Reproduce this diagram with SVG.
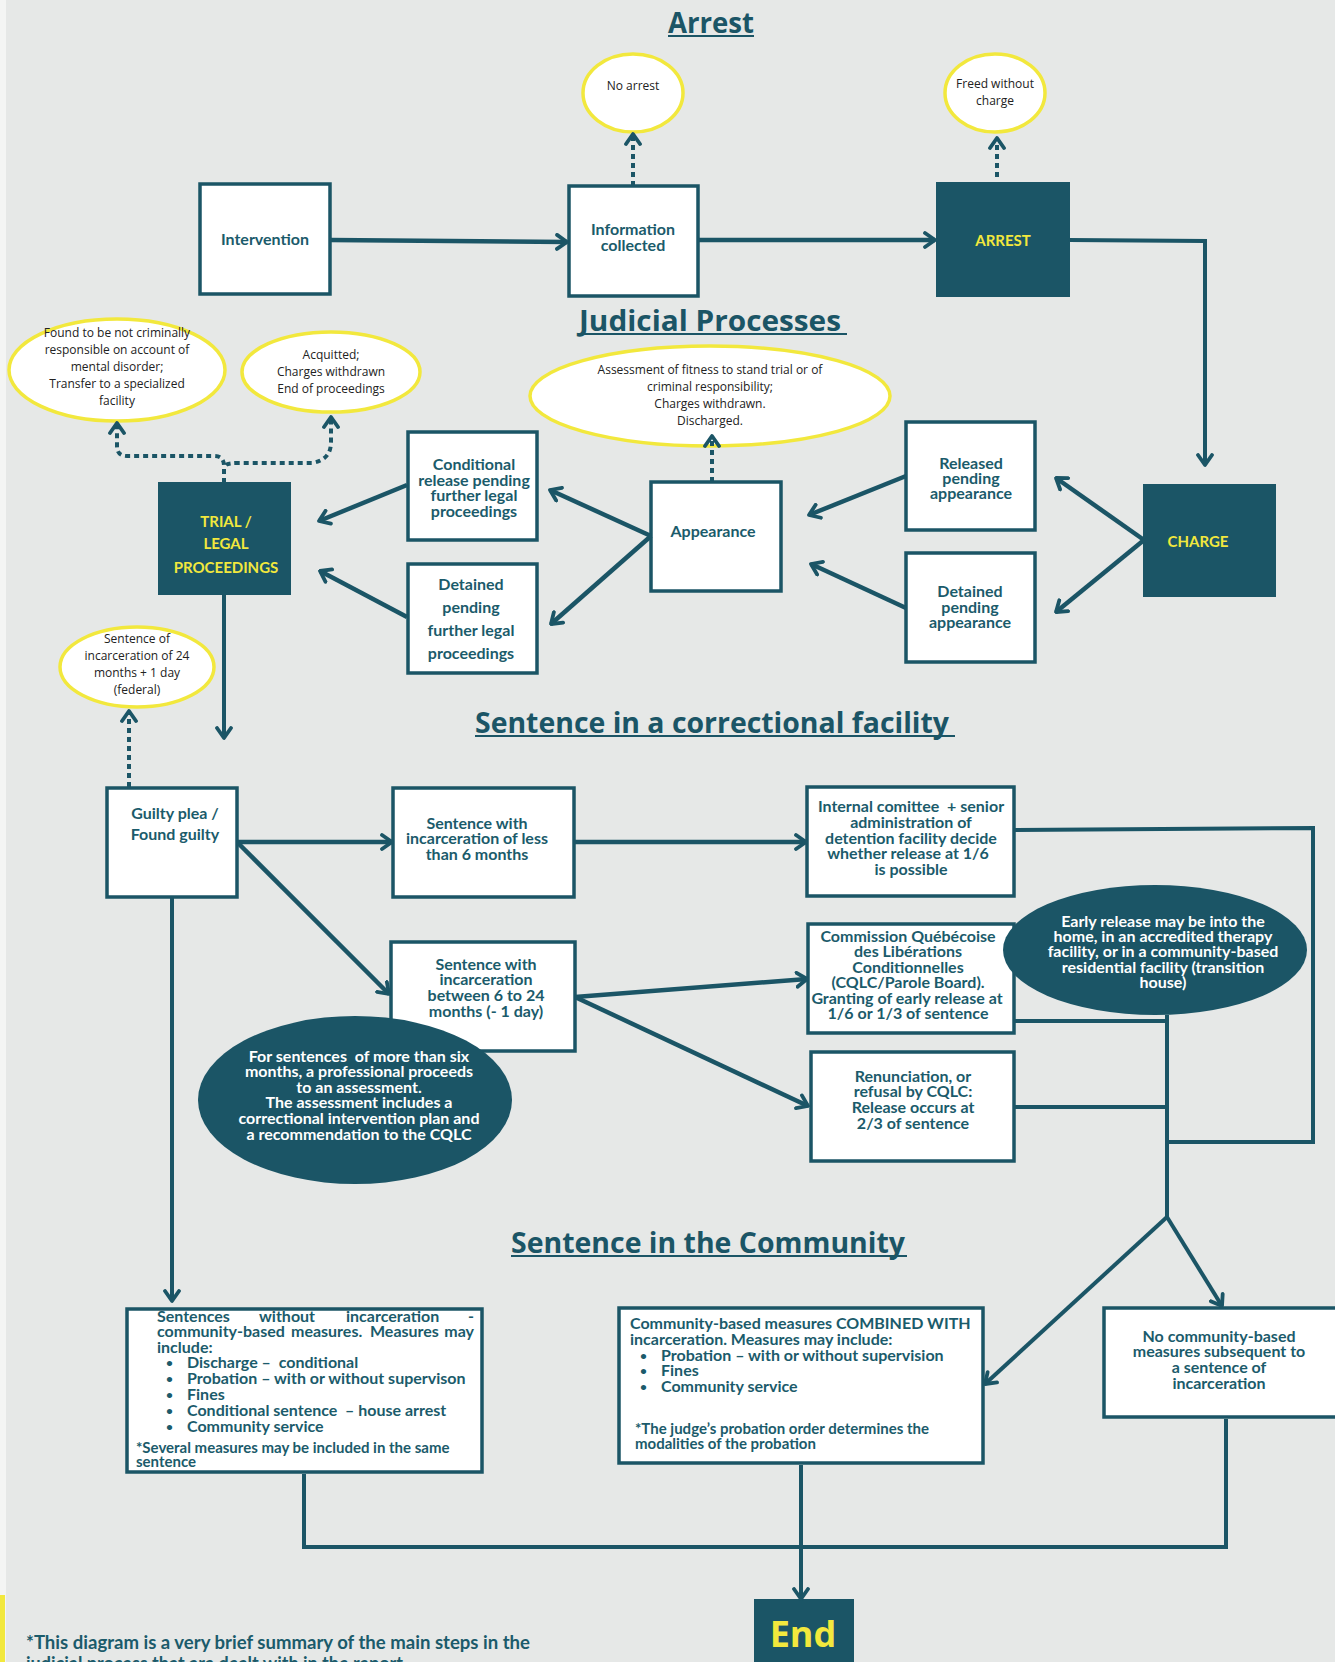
<svg xmlns="http://www.w3.org/2000/svg" width="1335" height="1662" viewBox="0 0 1335 1662">
<defs>
<style>
.bg{fill:#e6e8e7}
.box{fill:#ffffff;stroke:#1b5566;stroke-width:3.5}
.dark{fill:#1b5566;stroke:#1b5566;stroke-width:2}
.yel{fill:#ffffff;stroke:#f2e83d;stroke-width:3.5}
.dell{fill:#1b5566}
.h{font-family:"Open Sans","Liberation Sans",sans-serif;font-weight:700;fill:#1b5566}
.ul{stroke:#1b5566;stroke-width:2}
.t{font-family:Lato,"Liberation Sans",sans-serif;font-weight:700;font-size:16px;fill:#1b5b6b;text-anchor:middle}
.tl{font-family:Lato,"Liberation Sans",sans-serif;font-weight:700;font-size:16px;fill:#1b5b6b}
.tb{font-family:Lato,"Liberation Sans",sans-serif;font-weight:700;font-size:12px;fill:#1b5b6b}
.ts{font-family:Lato,"Liberation Sans",sans-serif;font-weight:700;font-size:15px;fill:#1b5b6b}
.ty{font-family:Lato,"Liberation Sans",sans-serif;font-weight:700;font-size:15px;fill:#f2e83d;text-anchor:middle}
.tw{font-family:Lato,"Liberation Sans",sans-serif;font-weight:700;font-size:16px;fill:#ffffff;text-anchor:middle}
.te{font-family:"Open Sans","Liberation Sans",sans-serif;font-weight:400;font-size:12px;fill:#222222;text-anchor:middle}
.c{fill:none;stroke:#1b5566;stroke-width:4.5}
.c4{fill:none;stroke:#1b5566;stroke-width:4}
.d{fill:none;stroke:#1b5566;stroke-width:4;stroke-dasharray:5 4}
</style>
<marker id="ah" viewBox="0 0 14 18" refX="12" refY="9" markerWidth="14" markerHeight="18" markerUnits="userSpaceOnUse" orient="auto">
<path d="M2,2 L12,9 L2,16" fill="none" stroke="#1b5566" stroke-width="3.8" stroke-linecap="round" stroke-linejoin="round"/>
</marker>
</defs>
<rect class="bg" x="0" y="0" width="1335" height="1662"/>
<rect x="0" y="0" width="6" height="1662" fill="#f4f5f4"/>
<rect x="0" y="1595" width="5" height="67" fill="#f2e83d"/>

<g id="headings">
<text class="h" x="668" y="33" font-size="28" textLength="86" lengthAdjust="spacingAndGlyphs">Arrest</text>
<line class="ul" x1="668" y1="36" x2="754" y2="36"/>
<text class="h" x="579" y="331" font-size="28" textLength="262" lengthAdjust="spacingAndGlyphs">Judicial Processes</text>
<line class="ul" x1="579" y1="334" x2="847" y2="334"/>
<text class="h" x="475" y="733" font-size="28" textLength="474" lengthAdjust="spacingAndGlyphs">Sentence in a correctional facility</text>
<line class="ul" x1="475" y1="736" x2="955" y2="736"/>
<text class="h" x="511" y="1253" font-size="28" textLength="394" lengthAdjust="spacingAndGlyphs">Sentence in the Community</text>
<line class="ul" x1="511" y1="1256" x2="907" y2="1256"/>
</g>

<g id="intervention">
<rect class="box" x="200" y="184" width="130" height="110"/>
<text class="t" x="265" y="245">Intervention</text>
</g>
<g id="information">
<rect class="box" x="569" y="186" width="129" height="110"/>
<text class="t" x="633" y="235">Information</text>
<text class="t" x="633" y="251">collected</text>
</g>
<g id="arrest">
<rect class="dark" x="937" y="183" width="132" height="113"/>
<text class="ty" x="1003" y="246">ARREST</text>
</g>
<g id="no-arrest">
<ellipse class="yel" cx="633" cy="93" rx="50" ry="39"/>
<text class="te" x="633" y="90">No arrest</text>
</g>
<g id="freed">
<ellipse class="yel" cx="995" cy="93" rx="50" ry="39"/>
<text class="te" x="995" y="88">Freed without</text>
<text class="te" x="995" y="105">charge</text>
</g>

<g id="not-responsible">
<ellipse class="yel" cx="117" cy="370" rx="108" ry="51"/>
<text class="te" x="117" y="337">Found to be not criminally</text>
<text class="te" x="117" y="354">responsible on account of</text>
<text class="te" x="117" y="371">mental disorder;</text>
<text class="te" x="117" y="388">Transfer to a specialized</text>
<text class="te" x="117" y="405">facility</text>
</g>
<g id="acquitted">
<ellipse class="yel" cx="331" cy="372" rx="89" ry="40"/>
<text class="te" x="331" y="359">Acquitted;</text>
<text class="te" x="331" y="376">Charges withdrawn</text>
<text class="te" x="331" y="393">End of proceedings</text>
</g>
<g id="assessment">
<ellipse class="yel" cx="710" cy="396" rx="180" ry="50"/>
<text class="te" x="710" y="374">Assessment of fitness to stand trial or of</text>
<text class="te" x="710" y="391">criminal responsibility;</text>
<text class="te" x="710" y="408">Charges withdrawn.</text>
<text class="te" x="710" y="425">Discharged.</text>
</g>
<g id="trial">
<rect class="dark" x="159" y="483" width="131" height="111"/>
<text class="ty" x="226" y="527">TRIAL /</text>
<text class="ty" x="226" y="549">LEGAL</text>
<text class="ty" x="226" y="573">PROCEEDINGS</text>
</g>
<g id="conditional-release">
<rect class="box" x="408" y="432" width="129" height="108"/>
<text class="t" x="474" y="470">Conditional</text>
<text class="t" x="474" y="486">release pending</text>
<text class="t" x="474" y="501">further legal</text>
<text class="t" x="474" y="517">proceedings</text>
</g>
<g id="detained-further">
<rect class="box" x="408" y="564" width="129" height="109"/>
<text class="t" x="471" y="590">Detained</text>
<text class="t" x="471" y="613">pending</text>
<text class="t" x="471" y="636">further legal</text>
<text class="t" x="471" y="659">proceedings</text>
</g>
<g id="appearance">
<rect class="box" x="651" y="482" width="130" height="109"/>
<text class="t" x="713" y="537">Appearance</text>
</g>
<g id="released-pending">
<rect class="box" x="906" y="422" width="129" height="108"/>
<text class="t" x="971" y="469">Released</text>
<text class="t" x="971" y="484">pending</text>
<text class="t" x="971" y="499">appearance</text>
</g>
<g id="detained-pending">
<rect class="box" x="906" y="553" width="129" height="109"/>
<text class="t" x="970" y="597">Detained</text>
<text class="t" x="970" y="613">pending</text>
<text class="t" x="970" y="628">appearance</text>
</g>
<g id="charge">
<rect class="dark" x="1144" y="485" width="131" height="111"/>
<text class="ty" x="1198" y="547">CHARGE</text>
</g>
<g id="federal">
<ellipse class="yel" cx="137" cy="667" rx="77" ry="40"/>
<text class="te" x="137" y="643">Sentence of</text>
<text class="te" x="137" y="660">incarceration of 24</text>
<text class="te" x="137" y="677">months + 1 day</text>
<text class="te" x="137" y="694">(federal)</text>
</g>

<g id="guilty">
<rect class="box" x="107" y="788" width="130" height="109"/>
<text class="t" x="175" y="819">Guilty plea /</text>
<text class="t" x="175" y="840">Found guilty</text>
</g>
<g id="less-6">
<rect class="box" x="393" y="788" width="181" height="109"/>
<text class="t" x="477" y="829">Sentence with</text>
<text class="t" x="477" y="844">incarceration of less</text>
<text class="t" x="477" y="860">than 6 months</text>
</g>
<g id="between-6-24">
<rect class="box" x="391" y="942" width="184" height="109"/>
<text class="t" x="486" y="970">Sentence with</text>
<text class="t" x="486" y="985">incarceration</text>
<text class="t" x="486" y="1001">between 6 to 24</text>
<text class="t" x="486" y="1017">months (- 1 day)</text>
</g>
<g id="assessment-note">
<ellipse class="dell" cx="355" cy="1100" rx="157" ry="84"/>
<text class="tw" x="359" y="1062" xml:space="preserve">For sentences  of more than six</text>
<text class="tw" x="359" y="1077">months, a professional proceeds</text>
<text class="tw" x="359" y="1093">to an assessment.</text>
<text class="tw" x="359" y="1108">The assessment includes a</text>
<text class="tw" x="359" y="1124">correctional intervention plan and</text>
<text class="tw" x="359" y="1140">a recommendation to the CQLC</text>
</g>
<g id="internal-committee">
<rect class="box" x="807" y="787" width="207" height="109"/>
<text class="t" x="911" y="812" xml:space="preserve">Internal comittee  + senior</text>
<text class="t" x="911" y="828">administration of</text>
<text class="t" x="911" y="844">detention facility decide</text>
<text class="t" x="908" y="859">whether release at 1/6</text>
<text class="t" x="911" y="875">is possible</text>
</g>
<g id="cqlc">
<rect class="box" x="808" y="924" width="206" height="109"/>
<text class="t" x="908" y="942">Commission Québécoise</text>
<text class="t" x="908" y="957">des Libérations</text>
<text class="t" x="908" y="973">Conditionnelles</text>
<text class="t" x="908" y="988">(CQLC/Parole Board).</text>
<text class="t" x="907" y="1004">Granting of early release at</text>
<text class="t" x="908" y="1019">1/6 or 1/3 of sentence</text>
</g>
<g id="early-release-note">
<ellipse class="dell" cx="1155" cy="950" rx="152" ry="65"/>
<text class="tw" x="1163" y="927">Early release may be into the</text>
<text class="tw" x="1163" y="942">home, in an accredited therapy</text>
<text class="tw" x="1163" y="957">facility, or in a community-based</text>
<text class="tw" x="1163" y="973">residential facility (transition</text>
<text class="tw" x="1163" y="988">house)</text>
</g>
<g id="renunciation">
<rect class="box" x="811" y="1052" width="203" height="109"/>
<text class="t" x="913" y="1082">Renunciation, or</text>
<text class="t" x="913" y="1097">refusal by CQLC:</text>
<text class="t" x="913" y="1113">Release occurs at</text>
<text class="t" x="913" y="1129">2/3 of sentence</text>
</g>

<g id="without-incarceration">
<rect class="box" x="127" y="1309" width="355" height="163"/>
<text class="tl" y="1322"><tspan x="157">Sentences</tspan><tspan x="259">without</tspan><tspan x="346">incarceration</tspan><tspan x="468">-</tspan></text>
<text class="tl" y="1337"><tspan x="157">community-based</tspan><tspan x="291">measures.</tspan><tspan x="370">Measures</tspan><tspan x="474" text-anchor="end">may</tspan></text>
<text class="tl" x="157" y="1353">include:</text>
<text class="tb" x="166" y="1367">•</text><text class="tl" x="187" y="1368" xml:space="preserve">Discharge –  conditional</text>
<text class="tb" x="166" y="1383">•</text><text class="tl" x="187" y="1384">Probation – with or without supervison</text>
<text class="tb" x="166" y="1399">•</text><text class="tl" x="187" y="1400">Fines</text>
<text class="tb" x="166" y="1415">•</text><text class="tl" x="187" y="1416" xml:space="preserve">Conditional sentence  – house arrest</text>
<text class="tb" x="166" y="1431">•</text><text class="tl" x="187" y="1432">Community service</text>
<text class="ts" x="136" y="1453">*Several measures may be included in the same</text>
<text class="ts" x="136" y="1467">sentence</text>
</g>
<g id="combined">
<rect class="box" x="619" y="1308" width="364" height="155"/>
<text class="tl" x="630" y="1329">Community-based measures COMBINED WITH</text>
<text class="tl" x="630" y="1345">incarceration. Measures may include:</text>
<text class="tb" x="640" y="1360">•</text><text class="tl" x="661" y="1361">Probation – with or without supervision</text>
<text class="tb" x="640" y="1375">•</text><text class="tl" x="661" y="1376">Fines</text>
<text class="tb" x="640" y="1391">•</text><text class="tl" x="661" y="1392">Community service</text>
<text class="ts" x="635" y="1434">*The judge’s probation order determines the</text>
<text class="ts" x="635" y="1449">modalities of the probation</text>
</g>
<g id="no-community">
<rect class="box" x="1104" y="1308" width="240" height="109"/>
<text class="t" x="1219" y="1342">No community-based</text>
<text class="t" x="1219" y="1357">measures subsequent to</text>
<text class="t" x="1219" y="1373">a sentence of</text>
<text class="t" x="1219" y="1389">incarceration</text>
</g>
<g id="end">
<rect class="dark" x="755" y="1600" width="98" height="70"/>
<text class="h" x="803" y="1647" font-size="36" style="fill:#f2e83d" text-anchor="middle">End</text>
</g>

<g id="connectors">
<path class="c" d="M330,240 L567,242" marker-end="url(#ah)"/>
<path class="c" d="M698,240 L935,240" marker-end="url(#ah)"/>
<path class="c4" d="M1069,240 L1205,241 L1205,465" marker-end="url(#ah)"/>
<path class="d" d="M633,186 L633,134" marker-end="url(#ah)"/>
<path class="d" d="M997,177 L997,138" marker-end="url(#ah)"/>
<path class="d" d="M224,483 L224,466 Q224,456 214,456 L127,456 Q117,456 117,446 L117,423" marker-end="url(#ah)"/>
<path class="d" d="M226,465 Q228,463 238,463 L312,463 Q331,460 331,442 L331,417" marker-end="url(#ah)"/>
<path class="c" d="M407,485 L319,521" marker-end="url(#ah)"/>
<path class="c" d="M407,617 L320,571" marker-end="url(#ah)"/>
<path class="c" d="M651,536 L550,490" marker-end="url(#ah)"/>
<path class="c" d="M651,536 L551,624" marker-end="url(#ah)"/>
<path class="d" d="M712,482 L712,436" marker-end="url(#ah)"/>
<path class="c" d="M906,476 L809,515" marker-end="url(#ah)"/>
<path class="c" d="M906,608 L811,564" marker-end="url(#ah)"/>
<path class="c" d="M1144,540 L1056,478" marker-end="url(#ah)"/>
<path class="c" d="M1144,540 L1056,612" marker-end="url(#ah)"/>
<path class="c4" d="M224,594 L224,738" marker-end="url(#ah)"/>
<path class="d" d="M129,787 L129,711" marker-end="url(#ah)"/>
<path class="c" d="M237,842 L392,842" marker-end="url(#ah)"/>
<path class="c" d="M238,843 L389,994" marker-end="url(#ah)"/>
<path class="c4" d="M172,897 L172,1301" marker-end="url(#ah)"/>
<path class="c" d="M574,842 L806,842" marker-end="url(#ah)"/>
<path class="c" d="M575,997 L807,979" marker-end="url(#ah)"/>
<path class="c" d="M575,997 L808,1106" marker-end="url(#ah)"/>
<path class="c4" d="M1014,830 L1313,828 L1313,1142 L1167,1142"/>
<path class="c4" d="M1014,1021 L1167,1021"/>
<path class="c4" d="M1014,1107 L1167,1107"/>
<path class="c4" d="M1167,1015 L1167,1217"/>
<path class="c4" d="M1167,1217 L985,1384" marker-end="url(#ah)"/>
<path class="c4" d="M1167,1217 L1222,1306" marker-end="url(#ah)"/>
<path class="c4" d="M304,1474 L304,1547 L1226,1547 L1226,1419"/>
<path class="c4" d="M801,1465 L801,1599" marker-end="url(#ah)"/>
</g>

<g id="footnote">
<text class="tl" x="26" y="1649" style="font-size:18px" textLength="504" lengthAdjust="spacingAndGlyphs">*This diagram is a very brief summary of the main steps in the</text>
<text class="tl" x="26" y="1670" style="font-size:18px">judicial process that are dealt with in the report.</text>
</g>
</svg>
